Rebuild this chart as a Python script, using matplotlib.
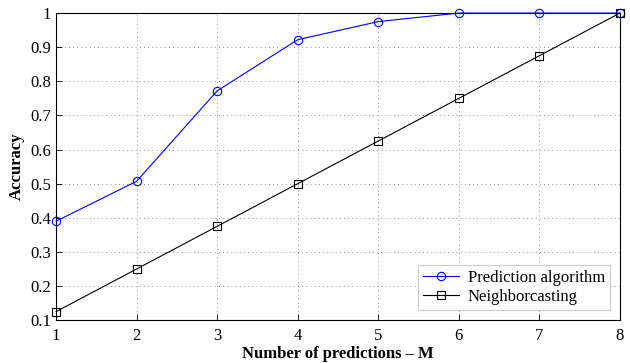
import matplotlib
matplotlib.use('Agg')
import matplotlib.pyplot as plt

m_values = [1, 2, 3, 4, 5, 6, 7, 8]
prediction_acc = [0.39, 0.507, 0.772, 0.922, 0.975, 1.0, 1.0, 1.0]
neighbor_acc = [0.125, 0.25, 0.375, 0.5, 0.625, 0.75, 0.875, 1.0]
y_ticks = [0.1, 0.2, 0.3, 0.4, 0.5, 0.6, 0.7, 0.8, 0.9, 1]
y_labels = ['0.1', '0.2', '0.3', '0.4', '0.5', '0.6', '0.7', '0.8', '0.9', '1']

plt.rcParams['font.family'] = ['Liberation Serif', 'DejaVu Serif']

fig = plt.figure(figsize=(6.3, 3.63), dpi=100)
ax = fig.add_axes([0.089, 0.118, 0.895, 0.846])

ax.plot(m_values, prediction_acc, 'o-', color='blue', linewidth=0.8,
        markersize=6, markerfacecolor='none', markeredgewidth=0.8,
        label='Prediction algorithm', clip_on=False, zorder=3)
ax.plot(m_values, neighbor_acc, 's-', color='black', linewidth=0.8,
        markersize=6, markerfacecolor='none', markeredgewidth=0.8,
        label='Neighborcasting', clip_on=False, zorder=3)

ax.set_xlim(1, 8)
ax.set_ylim(0.1, 1)
ax.set_xticks(m_values)
ax.set_yticks(y_ticks)
ax.set_yticklabels(y_labels)
ax.tick_params(direction='in', labelsize=12, length=4, width=0.6)
ax.tick_params(axis='x', pad=6)

ax.grid(True, linestyle=(0, (1, 4)), color='#666666', linewidth=0.6)
for s in ax.spines.values():
    s.set_linewidth(0.8)

ax.set_xlabel('Number of predictions – M', fontsize=12, fontweight='bold', labelpad=1)
ax.set_ylabel('Accuracy', fontsize=12, fontweight='bold', labelpad=4)

leg = ax.legend(loc='lower right', fontsize=12, fancybox=False, framealpha=1,
                edgecolor='#cccccc', borderpad=0.3, labelspacing=0.2,
                handlelength=2.2, handletextpad=0.5, borderaxespad=0.6)
leg.get_frame().set_linewidth(0.8)
leg.set_zorder(5)

fig.savefig('out.png', dpi=100)
